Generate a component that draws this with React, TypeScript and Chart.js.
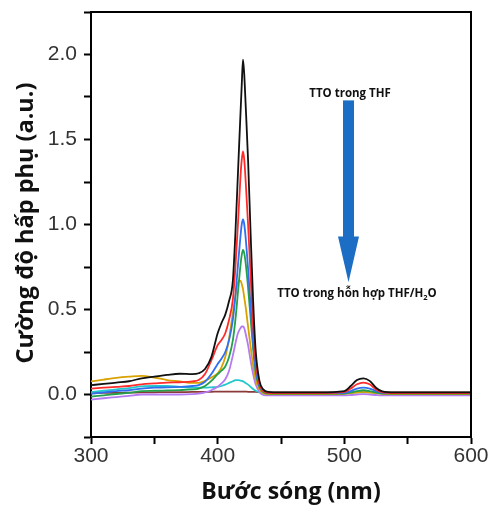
import React, { useEffect, useRef } from "react";
import { Chart, registerables } from "chart.js";

Chart.register(...registerables);

// Wavelength grid (nm)
const wavelengths = [300, 310, 320, 330, 340, 350, 360, 370, 380, 385, 390, 395, 400, 403, 406, 409, 412, 414, 416, 418, 419, 420, 421, 422, 424, 426, 428, 430, 433, 436, 440, 450, 460, 480, 500, 505, 510, 515, 520, 525, 530, 540, 560, 580, 600];

// Absorbance series (a.u.)
const blackSeries = [0.055, 0.062, 0.07, 0.078, 0.095, 0.105, 0.115, 0.122, 0.12, 0.125, 0.15, 0.22, 0.36, 0.42, 0.47, 0.55, 0.67, 0.95, 1.3, 1.65, 1.82, 1.97, 1.88, 1.72, 1.38, 0.95, 0.55, 0.26, 0.08, 0.03, 0.015, 0.012, 0.012, 0.012, 0.02, 0.05, 0.085, 0.095, 0.08, 0.04, 0.018, 0.012, 0.012, 0.012, 0.012];
const redSeries = [0.035, 0.04, 0.045, 0.05, 0.06, 0.065, 0.07, 0.072, 0.077, 0.085, 0.12, 0.2, 0.29, 0.32, 0.36, 0.44, 0.56, 0.75, 1.0, 1.28, 1.38, 1.43, 1.38, 1.27, 1.0, 0.7, 0.4, 0.2, 0.06, 0.02, 0.01, 0.008, 0.008, 0.008, 0.015, 0.035, 0.06, 0.07, 0.06, 0.03, 0.012, 0.008, 0.008, 0.008, 0.008];
const blueSeries = [0.004, 0.012, 0.02, 0.025, 0.035, 0.04, 0.042, 0.045, 0.05, 0.055, 0.075, 0.12, 0.18, 0.21, 0.25, 0.32, 0.44, 0.58, 0.76, 0.93, 1.0, 1.03, 1.0, 0.93, 0.74, 0.52, 0.3, 0.15, 0.05, 0.02, 0.01, 0.008, 0.008, 0.008, 0.01, 0.02, 0.035, 0.04, 0.035, 0.02, 0.01, 0.008, 0.008, 0.008, 0.008];
const greenSeries = [-0.012, -0.005, 0.003, 0.01, 0.02, 0.022, 0.024, 0.026, 0.03, 0.035, 0.05, 0.08, 0.12, 0.14, 0.165, 0.22, 0.32, 0.44, 0.6, 0.76, 0.82, 0.85, 0.83, 0.78, 0.63, 0.45, 0.27, 0.13, 0.045, 0.015, 0.006, 0.005, 0.005, 0.005, 0.006, 0.012, 0.02, 0.025, 0.02, 0.012, 0.006, 0.005, 0.005, 0.005, 0.005];
const orangeSeries = [0.077, 0.088, 0.098, 0.105, 0.11, 0.1, 0.085, 0.077, 0.068, 0.068, 0.08, 0.1, 0.125, 0.16, 0.22, 0.33, 0.48, 0.58, 0.66, 0.67, 0.65, 0.62, 0.57, 0.52, 0.4, 0.28, 0.17, 0.09, 0.03, 0.008, 0.003, 0.003, 0.003, 0.003, 0.004, 0.008, 0.012, 0.015, 0.012, 0.008, 0.004, 0.003, 0.003, 0.003, 0.003];
const violetSeries = [-0.03, -0.022, -0.015, -0.008, 0.0, 0.0, 0.0, 0.0, 0.002, 0.005, 0.012, 0.025, 0.045, 0.065, 0.09, 0.14, 0.23, 0.3, 0.36, 0.39, 0.4, 0.4, 0.39, 0.36, 0.29, 0.2, 0.12, 0.06, 0.015, -0.002, -0.005, -0.005, -0.005, -0.005, -0.005, -0.003, 0.0, 0.002, 0.0, -0.003, -0.005, -0.005, -0.005, -0.005, -0.005];
const cyanSeries = [0.014, 0.022, 0.03, 0.038, 0.048, 0.05, 0.05, 0.045, 0.04, 0.04, 0.04, 0.042, 0.045, 0.05, 0.058, 0.068, 0.078, 0.084, 0.085, 0.082, 0.08, 0.077, 0.073, 0.068, 0.058, 0.045, 0.032, 0.022, 0.012, 0.008, 0.008, 0.008, 0.008, 0.008, 0.008, 0.01, 0.012, 0.013, 0.012, 0.01, 0.008, 0.008, 0.008, 0.008, 0.008];
const brownSeries = [0.008, 0.009, 0.01, 0.011, 0.012, 0.013, 0.014, 0.014, 0.015, 0.015, 0.016, 0.016, 0.017, 0.017, 0.017, 0.017, 0.017, 0.017, 0.017, 0.017, 0.017, 0.017, 0.017, 0.017, 0.016, 0.016, 0.015, 0.015, 0.014, 0.014, 0.013, 0.013, 0.013, 0.013, 0.013, 0.013, 0.014, 0.014, 0.014, 0.013, 0.013, 0.013, 0.013, 0.013, 0.013];

const seriesList = [
  { label: "S1", data: blackSeries, color: "#111111" },
  { label: "S2", data: redSeries, color: "#ff2b2b" },
  { label: "S3", data: blueSeries, color: "#2f6ff0" },
  { label: "S4", data: greenSeries, color: "#22a04a" },
  { label: "S5", data: orangeSeries, color: "#d9a200" },
  { label: "S6", data: violetSeries, color: "#b47af2" },
  { label: "S7", data: cyanSeries, color: "#22c8cc" },
  { label: "S8", data: brownSeries, color: "#8b3a3a" },
];

// Axis settings
const xMin = 300, xMax = 600;
const yMin = -0.25, yMax = 2.25;
const xMajorLabels = [300, 400, 500, 600];
const yMajorLabels = [0, 0.5, 1, 1.5, 2];

// Annotation
const topText = "TTO trong THF";
const bottomTextMain = "TTO trong hỗn hợp THF/H";
const bottomTextSub = "2";
const bottomTextEnd = "O";
const xTitle = "Bước sóng (nm)";
const yTitle = "Cường độ hấp phụ (a.u.)";
const arrowX = 503.3;
const arrowTopY = 1.73;
const arrowHeadY = 0.93;
const arrowTipY = 0.66;
const topTextPos = { x: 504.5, y: 1.77 };
const bottomTextPos = { x: 510, y: 0.59 };

const overlayPlugin = {
  id: "overlay",
  afterDraw(chart: any) {
    const { ctx, chartArea: a, scales } = chart;
    const xs = scales.x, ys = scales.y;
    ctx.save();
    // frame top/right
    ctx.strokeStyle = "#000";
    ctx.lineWidth = 2;
    ctx.beginPath();
    ctx.moveTo(a.left - 1, a.top);
    ctx.lineTo(a.right, a.top);
    ctx.lineTo(a.right, a.bottom + 1);
    ctx.stroke();

    // arrow
    const cx = xs.getPixelForValue(arrowX);
    const yTop = ys.getPixelForValue(arrowTopY);
    const yHead = ys.getPixelForValue(arrowHeadY);
    const yTip = ys.getPixelForValue(arrowTipY);
    ctx.fillStyle = "#1b6ec4";
    ctx.fillRect(cx - 5.5, yTop, 11, yHead - yTop + 1);
    ctx.beginPath();
    ctx.moveTo(cx - 10.5, yHead);
    ctx.lineTo(cx + 10.5, yHead);
    ctx.lineTo(cx, yTip);
    ctx.closePath();
    ctx.fill();

    // annotation texts
    ctx.fillStyle = "#111";
    ctx.textBaseline = "middle";
    ctx.font = "bold 11.5px 'Open Sans'";
    ctx.textAlign = "center";
    ctx.fillText(topText, xs.getPixelForValue(topTextPos.x), ys.getPixelForValue(topTextPos.y));

    const bx = xs.getPixelForValue(bottomTextPos.x);
    const by = ys.getPixelForValue(bottomTextPos.y);
    ctx.textAlign = "left";
    const mainFont = "bold 11.5px 'Open Sans'";
    const subFont = "bold 7.5px 'Open Sans'";
    ctx.font = mainFont;
    const w1 = ctx.measureText(bottomTextMain).width;
    const w3 = ctx.measureText(bottomTextEnd).width;
    ctx.font = subFont;
    const w2 = ctx.measureText(bottomTextSub).width;
    let sx = bx - (w1 + w2 + w3) / 2;
    ctx.font = mainFont;
    ctx.fillText(bottomTextMain, sx, by);
    sx += w1;
    ctx.font = subFont;
    ctx.fillText(bottomTextSub, sx, by + 3.5);
    sx += w2;
    ctx.font = mainFont;
    ctx.fillText(bottomTextEnd, sx, by);

    // axis titles
    ctx.fillStyle = "#111";
    ctx.font = "bold 23px 'Open Sans'";
    ctx.textAlign = "center";
    ctx.textBaseline = "middle";
    ctx.fillText(xTitle, 291, 492);
    ctx.translate(26, 223);
    ctx.rotate(-Math.PI / 2);
    ctx.font = "bold 23.5px 'Open Sans'";
    ctx.fillText(yTitle, 0, 0);
    ctx.restore();
  },
};

export default function App() {
  const canvasRef = useRef<HTMLCanvasElement | null>(null);

  useEffect(() => {
    document.body.style.margin = "0";
    const canvas = canvasRef.current;
    if (!canvas) return;
    const chart = new Chart(canvas, {
      type: "line",
      data: {
        datasets: seriesList.map((s) => ({
          label: s.label,
          data: wavelengths.map((w, i) => ({ x: w, y: s.data[i] })),
          borderColor: s.color,
          backgroundColor: s.color,
          borderWidth: 1.8,
          pointRadius: 0,
          cubicInterpolationMode: "monotone" as const,
          fill: false,
        })),
      },
      options: {
        responsive: false,
        animation: false,
        devicePixelRatio: 1,
        layout: { padding: { left: 0, top: 12, right: 20, bottom: 0 } },
        plugins: {
          legend: { display: false },
          tooltip: { enabled: false },
          title: { display: false },
        },
        scales: {
          x: {
            type: "linear",
            min: xMin,
            max: xMax,
            afterFit: (s: any) => {
              s.height = 69;
              s.paddingLeft = 0;
              s.paddingRight = 0;
            },
            border: { display: true, color: "#000", width: 2 },
            grid: {
              display: true,
              drawOnChartArea: false,
              drawTicks: true,
              tickLength: 7,
              tickWidth: 2,
              tickColor: "#000",
            },
            ticks: {
              stepSize: 50,
              autoSkip: false,
              maxRotation: 0,
              padding: 0,
              color: "#333",
              font: { family: "'Liberation Sans'", size: 21 },
              callback: (v: any) => (xMajorLabels.includes(Number(v)) ? String(v) : ""),
            },
          },
          y: {
            type: "linear",
            min: yMin,
            max: yMax,
            afterFit: (s: any) => {
              s.width = 91;
              s.paddingTop = 0;
              s.paddingBottom = 0;
            },
            border: { display: true, color: "#000", width: 2 },
            grid: {
              display: true,
              drawOnChartArea: false,
              drawTicks: true,
              tickLength: 7,
              tickWidth: 2,
              tickColor: "#000",
            },
            ticks: {
              stepSize: 0.25,
              autoSkip: false,
              padding: 7,
              color: "#333",
              font: { family: "'Liberation Sans'", size: 21 },
              callback: (v: any) => {
                const n = Number(v);
                return yMajorLabels.some((m) => Math.abs(m - n) < 1e-6) ? n.toFixed(1) : "";
              },
            },
          },
        },
      },
      plugins: [overlayPlugin],
    });
    return () => chart.destroy();
  }, []);

  return (
    <div style={{ position: "absolute", left: 0, top: 0, width: 491, height: 506, background: "#fff" }}>
      <canvas ref={canvasRef} width={491} height={506} style={{ display: "block" }} />
    </div>
  );
}
